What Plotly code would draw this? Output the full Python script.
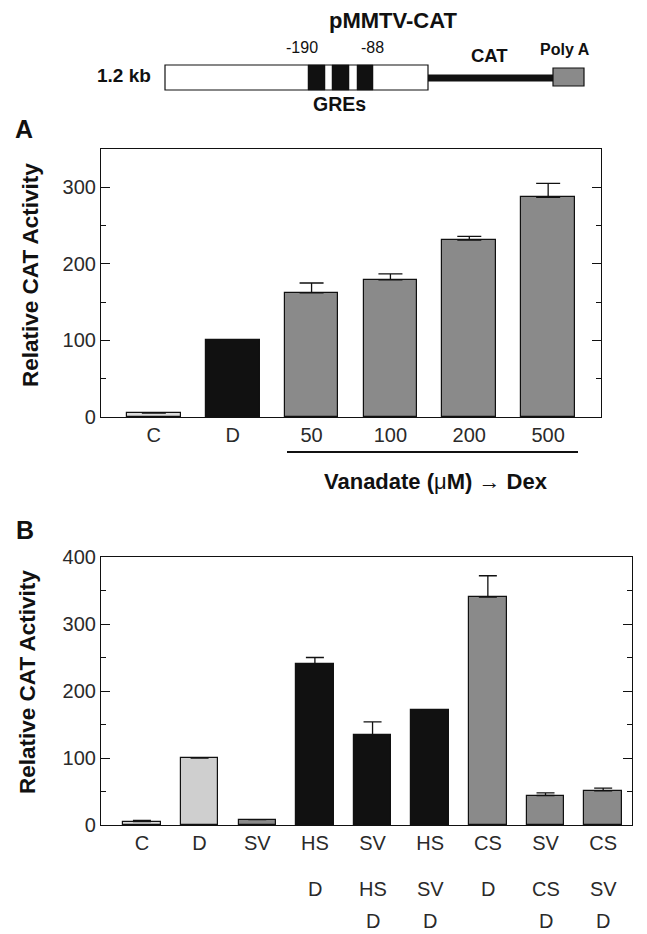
import plotly.graph_objects as go

# ---------------- data ----------------
a_labels = ["C", "D", "50", "100", "200", "500"]
a_values = [5, 100, 162, 179, 231, 287]
a_err = [0, 0, 13, 8, 5, 18]

b_row1 = ["C", "D", "SV", "HS", "SV", "HS", "CS", "SV", "CS"]
b_row2 = ["", "", "", "D", "HS", "SV", "D", "CS", "SV"]
b_row3 = ["", "", "", "", "D", "D", "", "D", "D"]
b_values = [5, 100, 8, 240, 135, 171, 340, 44, 51]
b_err = [2, 0, 0, 10, 19, 0, 32, 4, 4]

a_ticks = [0, 100, 200, 300]
a_minor = [50, 150, 250]
b_ticks = [0, 100, 200, 300, 400]
b_minor = [50, 150, 250, 350]

# ---------------- style ----------------
W, H = 647, 934
BLACK = "#111111"
GRAY = "#8a8a8a"
LIGHT = "#cfcfcf"
LIGHTER = "#dcdcdc"
a_colors = [LIGHTER, BLACK, GRAY, GRAY, GRAY, GRAY]
b_colors = [LIGHTER, LIGHT, GRAY, BLACK, BLACK, BLACK, GRAY, GRAY, GRAY]
FONT = "Liberation Sans, Arial, Helvetica, sans-serif"
TICKC = "#2a2a2a"
TICKSIZE = 20


def X(px):
    return px / W


def Y(py):
    return 1 - py / H


fig = go.Figure()

fig.add_trace(go.Bar(
    x=list(range(len(a_labels))), y=a_values,
    marker=dict(color=a_colors, line=dict(color=BLACK, width=1.2)),
    width=0.68,
    error_y=dict(type="data", symmetric=False, array=a_err,
                 arrayminus=[0] * len(a_err), color=BLACK, thickness=1.3, width=12),
    xaxis="x", yaxis="y", showlegend=False,
))

fig.add_trace(go.Bar(
    x=list(range(len(b_row1))), y=b_values,
    marker=dict(color=b_colors, line=dict(color=BLACK, width=1.2)),
    width=0.65,
    error_y=dict(type="data", symmetric=False, array=b_err,
                 arrayminus=[0] * len(b_err), color=BLACK, thickness=1.3, width=9),
    xaxis="x2", yaxis="y2", showlegend=False,
))

axis_common = dict(showline=True, linecolor=BLACK, linewidth=1.2,
                   showgrid=False, zeroline=False, automargin=False,
                   tickfont=dict(family=FONT, size=TICKSIZE, color=TICKC))
y_common = dict(ticks="inside", ticklen=9, tickwidth=1, tickcolor=BLACK, mirror="ticks",
                **axis_common)

fig.update_layout(
    template="none",
    width=W, height=H, autosize=False,
    margin=dict(l=0, r=0, t=0, b=0, pad=0),
    paper_bgcolor="white", plot_bgcolor="white",
    font=dict(family=FONT, color="#111"),
    bargap=0,
    xaxis=dict(domain=[X(101), X(601)], range=[-0.67, 5.67],
               tickvals=list(range(len(a_labels))), ticktext=a_labels,
               ticks="", mirror=True, anchor="y", **axis_common),
    yaxis=dict(domain=[Y(417), Y(149)], range=[0, 350], tickvals=a_ticks,
               minor=dict(tickvals=a_minor, ticks="inside", ticklen=5, tickcolor=BLACK,
                          showgrid=False),
               anchor="x", **y_common),
    xaxis2=dict(domain=[X(101), X(632)], range=[-0.71, 8.5],
                tickvals=list(range(len(b_row1))), ticktext=b_row1,
                ticks="", mirror=True, anchor="y2", **axis_common),
    yaxis2=dict(domain=[Y(825), Y(557)], range=[0, 400], tickvals=b_ticks,
                minor=dict(tickvals=b_minor, ticks="inside", ticklen=5, tickcolor=BLACK,
                           showgrid=False),
                anchor="x2", **y_common),
)

ann = []


def text(px, py, s, size, bold=False, xanchor="center", angle=0):
    ann.append(dict(xref="paper", yref="paper", x=X(px), y=Y(py),
                    text=("<b>%s</b>" % s) if bold else s, showarrow=False,
                    xanchor=xanchor, yanchor="middle", textangle=angle,
                    font=dict(family=FONT, size=size, color="#111")))


# B extra label rows
for i, (r2, r3) in enumerate(zip(b_row2, b_row3)):
    if r2:
        ann.append(dict(xref="x2", yref="paper", x=i, y=Y(889), text=r2, showarrow=False,
                        yanchor="middle", font=dict(family=FONT, size=TICKSIZE, color=TICKC)))
    if r3:
        ann.append(dict(xref="x2", yref="paper", x=i, y=Y(933), text=r3, showarrow=False,
                        yanchor="bottom", borderpad=0,
                        font=dict(family=FONT, size=TICKSIZE, color=TICKC)))

# titles / labels
text(24, 129, "A", 25, bold=True)
text(25, 530, "B", 25, bold=True)
text(30, 275, "Relative CAT Activity", 22.5, bold=True, angle=-90)
text(27, 682, "Relative CAT Activity", 22.5, bold=True, angle=-90)
text(436, 481, "<b>Vanadate (</b>\u03bc<b>M) </b>\u2192<b> Dex</b>", 22)

# diagram texts
text(393, 20, "pMMTV-CAT", 22, bold=True)
text(302, 48, "-190", 16)
text(372, 48, "-88", 16)
text(489, 55, "CAT", 18.5, bold=True)
text(565, 50, "Poly A", 16, bold=True)
text(153, 76, "1.2 kb", 19, bold=True, xanchor="right")
text(339, 104, "GREs", 19.5, bold=True)

fig.update_layout(annotations=ann)

shapes = []


def rect(x0, y0, x1, y1, fill, lw=1.2):
    shapes.append(dict(type="rect", xref="paper", yref="paper",
                       x0=X(x0), x1=X(x1), y0=Y(y1), y1=Y(y0),
                       fillcolor=fill, line=dict(color=BLACK, width=lw)))


# thick CAT line
shapes.append(dict(type="line", xref="paper", yref="paper",
                   x0=X(428), x1=X(554), y0=Y(78), y1=Y(78),
                   line=dict(color=BLACK, width=7)))
rect(165, 65, 428, 90, "white")
rect(308, 65, 325, 90, BLACK, 0.5)
rect(332, 65, 349, 90, BLACK, 0.5)
rect(357, 65, 373, 90, BLACK, 0.5)
rect(553, 68, 584, 86, GRAY)
# vanadate underline
shapes.append(dict(type="line", xref="paper", yref="paper",
                   x0=X(287), x1=X(578), y0=Y(452), y1=Y(452),
                   line=dict(color=BLACK, width=2.2)))
fig.update_layout(shapes=shapes)

fig.write_html("out.html", config={"displayModeBar": False},
               post_script="document.body.style.margin='0';")
